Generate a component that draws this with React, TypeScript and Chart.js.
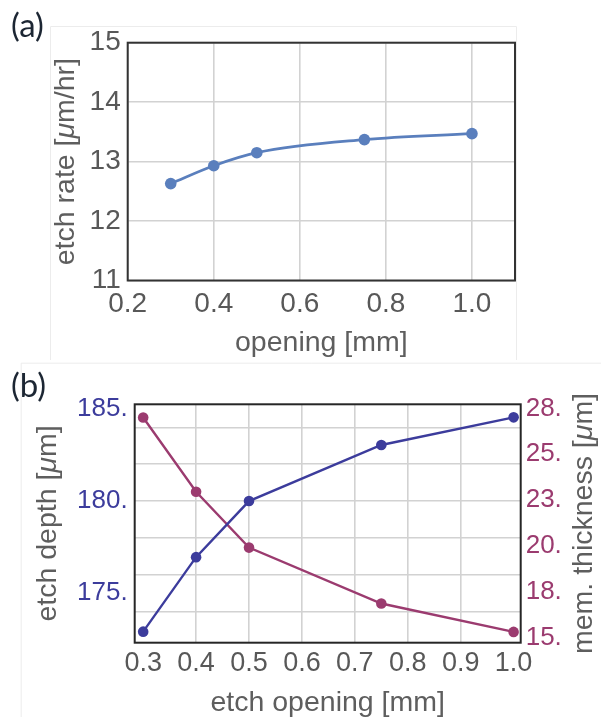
import React, { useEffect, useRef } from "react";
import { Chart, registerables } from "chart.js";
Chart.register(...registerables);

// ---------- data (a) ----------
const openingA = [0.3, 0.4, 0.5, 0.75, 1.0];
const etchRate = [12.63, 12.93, 13.15, 13.37, 13.47];
const xTicksA = [0.2, 0.4, 0.6, 0.8, 1.0];
const yTicksA = [11, 12, 13, 14, 15];

// ---------- data (b) ----------
const openingB = [0.3, 0.4, 0.5, 0.75, 1.0];
const etchDepth = [172.9, 176.95, 180.0, 183.05, 184.55];
const memThickness = [27.0, 22.95, 19.9, 16.85, 15.3];
const xTicksB = [0.3, 0.4, 0.5, 0.6, 0.7, 0.8, 0.9, 1.0];
const depthTicks = [174, 175, 176, 178, 180, 182, 184, 185];
const depthLabels = [175, 180, 185];
const thickTicks = [15, 17.5, 20, 22.5, 25, 27.5];

const SANS = "'Liberation Sans', Arial, sans-serif";
const GRAY = "#585858";
const GRID = "#d2d2d2";
const BLUE_A = "#5a7fbd";
const BLUE_B = "#3c3c9c";
const MAG_B = "#9b3b6f";

type Seg = { t: string; it?: boolean };

function drawRich(
  ctx: CanvasRenderingContext2D,
  segs: Seg[],
  x: number,
  y: number,
  rot: number,
  size: number,
  color: string
) {
  ctx.save();
  ctx.translate(x, y);
  ctx.rotate(rot);
  ctx.fillStyle = color;
  ctx.textBaseline = "alphabetic";
  ctx.textAlign = "left";
  const fontOf = (s: Seg) => `${s.it ? "italic " : ""}${size}px ${SANS}`;
  let total = 0;
  for (const s of segs) {
    ctx.font = fontOf(s);
    total += ctx.measureText(s.t).width;
  }
  let cx = -total / 2;
  for (const s of segs) {
    ctx.font = fontOf(s);
    ctx.fillText(s.t, cx, 0);
    cx += ctx.measureText(s.t).width;
  }
  ctx.restore();
}

function makeFrame(color: string) {
  return {
    id: "frame",
    beforeDatasetsDraw(chart: any) {
      const { ctx, chartArea: a } = chart;
      ctx.save();
      ctx.strokeStyle = color;
      ctx.lineWidth = 2;
      ctx.strokeRect(a.left, a.top, a.right - a.left, a.bottom - a.top);
      ctx.restore();
    },
  };
}

function makeDecor(
  box: { l: number; t: number; r: number },
  panel: string,
  titles: (ctx: CanvasRenderingContext2D, a: any) => void
) {
  return {
    id: "decor",
    beforeDraw(chart: any) {
      const { ctx } = chart;
      ctx.save();
      ctx.strokeStyle = "#ececec";
      ctx.lineWidth = 1;
      ctx.beginPath();
      ctx.moveTo(box.l + 0.5, chart.height);
      ctx.lineTo(box.l + 0.5, box.t + 0.5);
      ctx.lineTo(box.r + 0.5, box.t + 0.5);
      if (box.r < chart.width - 2) ctx.lineTo(box.r + 0.5, chart.height);
      ctx.stroke();
      ctx.restore();
    },
    afterDraw(chart: any) {
      const { ctx, chartArea } = chart;
      ctx.save();
      ctx.fillStyle = "#1c2633";
      ctx.font = `33px Lato, 'Open Sans', sans-serif`;
      ctx.textAlign = "left";
      ctx.textBaseline = "alphabetic";
      ctx.fillText(panel, 11, 37);
      ctx.restore();
      titles(ctx, chartArea);
    },
  };
}

const ChartA: React.FC = () => {
  const ref = useRef<HTMLCanvasElement>(null);
  useEffect(() => {
    const chart = new Chart(ref.current as HTMLCanvasElement, {
      type: "line",
      data: {
        datasets: [
          {
            data: openingA.map((x, i) => ({ x, y: etchRate[i] })),
            borderColor: BLUE_A,
            backgroundColor: BLUE_A,
            borderWidth: 2.8,
            pointRadius: 5.8,
            pointBorderWidth: 0,
            cubicInterpolationMode: "monotone",
            clip: false,
          } as any,
        ],
      },
      options: {
        animation: false,
        responsive: false,
        devicePixelRatio: 1,
        layout: { padding: { top: 42.7, right: 86, left: 0, bottom: 0 } },
        plugins: { legend: { display: false }, tooltip: { enabled: false } },
        scales: {
          x: {
            type: "linear",
            min: 0.2,
            max: 1.1,
            afterBuildTicks: (s: any) => {
              s.ticks = xTicksA.map((v) => ({ value: v }));
            },
            afterFit: (s: any) => {
              s.height = 79.5;
            },
            ticks: {
              callback: (v: any) => Number(v).toFixed(1),
              font: { size: 28, family: SANS },
              color: GRAY,
              padding: 6.5,
              maxRotation: 0,
              autoSkip: false,
            },
            grid: { color: GRID, lineWidth: 1.6, drawTicks: false },
            border: { display: false },
          },
          y: {
            type: "linear",
            min: 11,
            max: 15,
            afterBuildTicks: (s: any) => {
              s.ticks = yTicksA.map((v) => ({ value: v }));
            },
            afterFit: (s: any) => {
              s.width = 127.7;
            },
            ticks: {
              callback: (v: any) => String(v),
              font: { size: 28, family: SANS },
              color: GRAY,
              padding: 7,
              autoSkip: false,
            },
            grid: { color: GRID, lineWidth: 1.6, drawTicks: false },
            border: { display: false },
          },
        },
      },
      plugins: [
        makeFrame("#333333"),
        makeDecor({ l: 50, t: 26, r: 516 }, "(a)", (ctx, a) => {
          drawRich(
            ctx,
            [{ t: "etch rate [" }, { t: "\u03bc", it: true }, { t: "m/hr]" }],
            74,
            (a.top + a.bottom) / 2,
            -Math.PI / 2,
            28.5,
            "#5e5e5e"
          );
          drawRich(ctx, [{ t: "opening [mm]" }], (a.left + a.right) / 2, 350.8, 0, 28.5, "#5e5e5e");
        }),
      ],
    } as any);
    return () => chart.destroy();
  }, []);
  return (
    <canvas
      ref={ref}
      width={601}
      height={360}
      style={{ position: "absolute", left: 0, top: 0, width: 601, height: 360 }}
    />
  );
};

const ChartB: React.FC = () => {
  const ref = useRef<HTMLCanvasElement>(null);
  useEffect(() => {
    const chart = new Chart(ref.current as HTMLCanvasElement, {
      type: "line",
      data: {
        datasets: [
          {
            data: openingB.map((x, i) => ({ x, y: etchDepth[i] })),
            yAxisID: "yL",
            borderColor: BLUE_B,
            backgroundColor: BLUE_B,
            borderWidth: 2.4,
            pointRadius: 5.3,
            pointBorderWidth: 0,
            tension: 0,
            clip: false,
          } as any,
          {
            data: openingB.map((x, i) => ({ x, y: memThickness[i] })),
            yAxisID: "yR",
            borderColor: MAG_B,
            backgroundColor: MAG_B,
            borderWidth: 2.4,
            pointRadius: 5.3,
            pointBorderWidth: 0,
            tension: 0,
            clip: false,
          } as any,
        ],
      },
      options: {
        animation: false,
        responsive: false,
        devicePixelRatio: 1,
        layout: { padding: { top: 44.3, right: 0, left: 0, bottom: 0 } },
        plugins: { legend: { display: false }, tooltip: { enabled: false } },
        scales: {
          x: {
            type: "linear",
            min: 0.284,
            max: 1.0134,
            afterBuildTicks: (s: any) => {
              s.ticks = xTicksB.map((v) => ({ value: v }));
            },
            afterFit: (s: any) => {
              s.height = 74.3;
            },
            ticks: {
              callback: (v: any) => Number(v).toFixed(1),
              font: { size: 27, family: SANS },
              color: GRAY,
              padding: 5,
              maxRotation: 0,
              autoSkip: false,
            },
            grid: {
              color: (c: any) =>
                c.tick && c.tick.value > 0.35 && c.tick.value < 0.95 ? GRID : "rgba(0,0,0,0)",
              lineWidth: 1.6,
              drawTicks: false,
            },
            border: { display: false },
          },
          yL: {
            type: "linear",
            position: "left",
            min: 172.3,
            max: 185.26,
            afterBuildTicks: (s: any) => {
              s.ticks = depthTicks.map((v) => ({ value: v }));
            },
            afterFit: (s: any) => {
              s.width = 134.7;
            },
            ticks: {
              callback: (v: any) => (depthLabels.includes(Number(v)) ? `${v}.` : ""),
              font: { size: 26, family: SANS },
              color: BLUE_B,
              padding: 7,
              autoSkip: false,
            },
            grid: {
              color: (c: any) => (c.tick && c.tick.value % 2 === 0 ? GRID : "rgba(0,0,0,0)"),
              lineWidth: 1.6,
              drawTicks: false,
            },
            border: { display: false },
          },
          yR: {
            type: "linear",
            position: "right",
            min: 14.71,
            max: 27.72,
            afterBuildTicks: (s: any) => {
              s.ticks = thickTicks.map((v) => ({ value: v }));
            },
            afterFit: (s: any) => {
              s.width = 80.3;
            },
            ticks: {
              callback: (v: any) => `${Math.round(Number(v))}.`,
              font: { size: 26, family: SANS },
              color: MAG_B,
              padding: 5,
              autoSkip: false,
            },
            grid: { display: false, drawTicks: false },
            border: { display: false },
          },
        },
      },
      plugins: [
        makeFrame("#262626"),
        makeDecor({ l: 20.7, t: 2.7, r: 601 }, "(b)", (ctx, a) => {
          const cy = (a.top + a.bottom) / 2;
          drawRich(
            ctx,
            [{ t: "etch depth [" }, { t: "\u03bc", it: true }, { t: "m]" }],
            55.8,
            cy,
            -Math.PI / 2,
            28.5,
            "#5e5e5e"
          );
          drawRich(
            ctx,
            [{ t: "mem. thickness [" }, { t: "\u03bc", it: true }, { t: "m]" }],
            592,
            cy,
            -Math.PI / 2,
            28.5,
            "#5e5e5e"
          );
          drawRich(ctx, [{ t: "etch opening [mm]" }], (a.left + a.right) / 2, 350.5, 0, 28.5, "#5e5e5e");
        }),
      ],
    } as any);
    return () => chart.destroy();
  }, []);
  return (
    <canvas
      ref={ref}
      width={601}
      height={357}
      style={{ position: "absolute", left: 0, top: 360, width: 601, height: 357 }}
    />
  );
};

export default function App() {
  return (
    <div style={{ position: "absolute", left: 0, top: 0, width: 601, height: 717, background: "#fff" }}>
      <ChartA />
      <ChartB />
    </div>
  );
}
